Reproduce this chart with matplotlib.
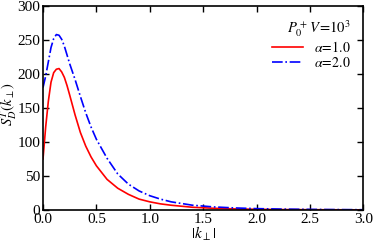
import numpy as np
import matplotlib
matplotlib.use('Agg')
import matplotlib.pyplot as plt

plt.rcParams['font.family'] = ['Liberation Serif', 'DejaVu Serif']
plt.rcParams['mathtext.fontset'] = 'stix'

# values
k = [0.0, 0.025, 0.05, 0.075, 0.1, 0.125, 0.15, 0.175, 0.2, 0.225, 0.25,
     0.3, 0.35, 0.4, 0.45, 0.5, 0.6, 0.7, 0.8, 0.9, 1.0, 1.1, 1.2,
     1.4, 1.6, 1.8, 2.0, 2.25, 2.5, 2.75, 3.0]
s_a1 = [75, 122, 160, 188, 202, 207, 208, 203, 195, 183, 169,
        140, 114, 94, 78, 65, 45, 32, 23, 16, 12, 9, 7,
        4, 2.5, 1.6, 1.0, 0.6, 0.4, 0.3, 0.2]
s_a2 = [180, 197, 218, 239, 252, 258, 257, 251, 241, 228, 215,
        192, 167, 143, 122, 104, 76, 53, 38, 28, 21, 16, 12,
        7, 4.5, 3, 2, 1.3, 0.9, 0.6, 0.4]
labels = [r'$\alpha\!=\!1.0$', r'$\alpha\!=\!2.0$']
legend_title = r'$P_0^+\,V\!=\!10^3$'

fig = plt.figure(figsize=(3.73, 2.45), dpi=100)
ax = fig.add_axes([0.1153, 0.1429, 0.8587, 0.8326])
ax.plot(k, s_a1, color='#ff0000', lw=1.2, label=labels[0])
ax.plot(k, s_a2, color='#0000ff', lw=1.2, ls='-.', label=labels[1])

ax.set_xlim(0, 3)
ax.set_ylim(0, 300)
ax.set_xticks(np.arange(0, 3.01, 0.5))
ax.set_yticks(np.arange(0, 301, 50))
ax.set_xticklabels(['%.1f' % v for v in np.arange(0, 3.01, 0.5)])
ax.tick_params(direction='in', top=True, right=True, length=4, width=1,
               labelsize=11, pad=2)
for sp in ax.spines.values():
    sp.set_linewidth(1.2)
ax.set_xlabel(r'$|k_\perp|$', fontsize=11)
ax.set_ylabel(r'$S_D^T(k_\perp)$', fontsize=10.5)
ax.xaxis.set_label_coords(0.5, -0.075)
ax.yaxis.set_label_coords(-0.074, 0.52)

leg = ax.legend(title=legend_title, frameon=False, loc='upper right',
                fontsize=10, title_fontsize=10.5, handlelength=2.2,
                handletextpad=0.8, borderaxespad=0.5, labelspacing=0.05,
                alignment='right')

fig.savefig('out.png', dpi=100)
